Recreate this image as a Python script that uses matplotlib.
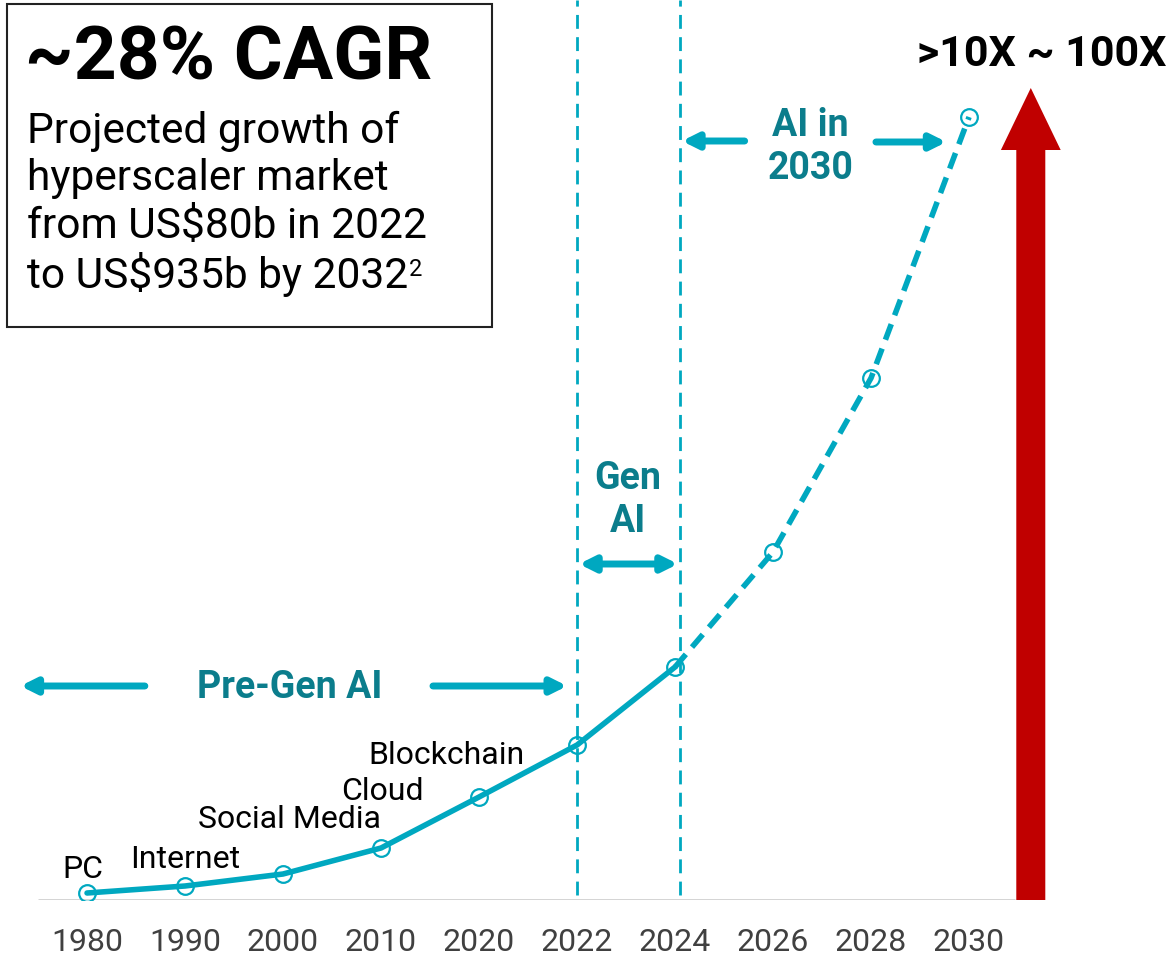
import matplotlib
matplotlib.use("Agg")
import matplotlib.pyplot as plt
from matplotlib.patches import FancyArrow, Rectangle

plt.rcParams['font.family'] = ['Roboto', 'DejaVu Sans']

years = ["1980", "1990", "2000", "2010", "2020", "2022", "2024", "2026", "2028", "2030"]
growth_index = [7, 14, 26, 52, 103, 155, 233, 348, 522, 783]
tech_labels = ["PC", "Internet", "Social Media", "Cloud", "Blockchain"]
actual_end = 6  # index of 2024: solid up to here, dashed afterwards

LINE = "#00A8C0"
TEXT_TEAL = "#0B7D8C"
RED = "#C00000"

W, H = 1168, 957
fig = plt.figure(figsize=(W / 100, H / 100), dpi=100)
base = 57 / H
ax = fig.add_axes([0, base, 1, 1 - base])
ax.set_xlim(-0.888, 11.03)
ax.set_ylim(0, 900)
for s in ax.spines.values():
    s.set_visible(False)
ax.set_yticks([])
x = list(range(len(years)))
ax.set_xticks(x)
ax.set_xticklabels(years, fontsize=23, color="#404040")
ax.tick_params(axis='x', length=0, pad=20.5)

# baseline
ax.hlines(0, -0.5, 9.47, color="#D0D0D0", lw=2, zorder=1)

# line
ax.plot(x[:actual_end + 1], growth_index[:actual_end + 1], color=LINE, lw=4, zorder=3,
        solid_capstyle='round')
ax.plot(x[actual_end:], growth_index[actual_end:], color=LINE, lw=4, zorder=3,
        dashes=(3, 1.7))
ax.plot(x, growth_index, ls='none', marker='o', ms=12, mfc='none', mec=LINE, mew=1.6, zorder=5)

# era separators
ax.vlines([5.0, 6.05], 5, 900, colors=LINE, lw=2, linestyles=(0, (5, 3)), zorder=2)

# tech labels
label_pos = [(-0.04, 31), (1.0, 41), (2.07, 80), (3.01, 108), (3.67, 144)]
for t, (lx, ly) in zip(tech_labels, label_pos):
    ax.text(lx, ly, t, fontsize=23, ha='center', va='center', color='black')

arrow_kw = dict(arrowstyle='-|>,head_length=0.9,head_width=0.45', color=LINE, lw=5,
                shrinkA=0, shrinkB=0)
dbl_kw = dict(arrowstyle='<|-|>,head_length=0.9,head_width=0.45', color=LINE, lw=5,
              shrinkA=0, shrinkB=0)

# Pre-Gen AI
ax.text(2.07, 212, "Pre-Gen AI", fontsize=27, fontweight='bold', color=TEXT_TEAL,
        ha='center', va='center')
ax.annotate("", xy=(-0.68, 214), xytext=(0.59, 214), arrowprops=arrow_kw)
ax.annotate("", xy=(4.9, 214), xytext=(3.53, 214), arrowprops=arrow_kw)

# Gen AI
ax.text(5.52, 400, "Gen\nAI", fontsize=27, fontweight='bold', color=TEXT_TEAL,
        ha='center', va='center', linespacing=1.2)
ax.annotate("", xy=(6.03, 336), xytext=(5.02, 336), arrowprops=dbl_kw)

# AI in 2030
ax.text(7.38, 753, "AI in\n2030", fontsize=27, fontweight='bold', color=TEXT_TEAL,
        ha='center', va='center', linespacing=1.2)
ax.annotate("", xy=(6.07, 759), xytext=(6.71, 759), arrowprops=arrow_kw)
ax.annotate("", xy=(8.77, 758), xytext=(8.05, 758), arrowprops=arrow_kw)

# red growth arrow
ax.add_patch(FancyArrow(9.63, 0, 0, 812, width=0.296, head_width=0.61, head_length=62,
                        length_includes_head=True, color=RED, zorder=3, lw=0))
ax.text(9.74, 846, ">10X ~ 100X", fontsize=31, fontweight='bold', color='black',
        ha='center', va='center')

# CAGR box
fig.add_artist(Rectangle((7 / W, 1 - 327 / H), 485 / W, 323 / H, transform=fig.transFigure,
                         fill=False, ec='#222222', lw=1.5))
fig.text(25 / W, 1 - 60 / H, "~28% CAGR", fontsize=54, fontweight='bold', color='black',
         va='center', ha='left')
body = ["Projected growth of", "hyperscaler market", "from US$80b in 2022", "to US$935b by 2032"]
last = None
for i, line in enumerate(body):
    last = fig.text(27 / W, 1 - (131 + 47.7 * i) / H, line, fontsize=30.6, color='black',
                    va='center', ha='left')
fig.canvas.draw()
bb = last.get_window_extent()
fig.text((bb.x1 + 1) / W, (bb.y1 - 6) / H, "2", fontsize=17, color='black',
         va='top', ha='left')

fig.savefig("out.png", dpi=100)
